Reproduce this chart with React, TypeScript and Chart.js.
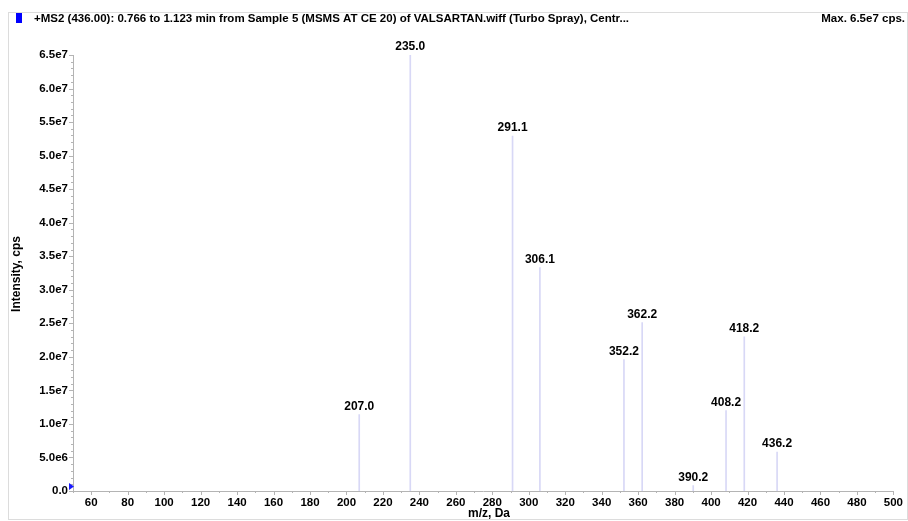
import React, { useEffect, useRef } from "react";
import { Chart, registerables } from "chart.js";

Chart.register(...registerables);

// Product-ion spectrum of valsartan precursor m/z 436
const peakMz = [207.0, 235.0, 291.1, 306.1, 352.2, 362.2, 390.2, 408.2, 418.2, 436.2];
const peakIntensity = [1.14e7, 6.5e7, 5.29e7, 3.33e7, 1.96e7, 2.51e7, 0.08e7, 1.2e7, 2.3e7, 0.58e7];

const xTickValues = [60, 80, 100, 120, 140, 160, 180, 200, 220, 240, 260, 280, 300, 320, 340, 360, 380, 400, 420, 440, 460, 480, 500];
const yTickValues = [0, 5e6, 1e7, 1.5e7, 2e7, 2.5e7, 3e7, 3.5e7, 4e7, 4.5e7, 5e7, 5.5e7, 6e7, 6.5e7];

const titleText = "+MS2 (436.00): 0.766 to 1.123 min from Sample 5 (MSMS AT CE 20) of VALSARTAN.wiff (Turbo Spray), Centr...";
const maxText = "Max. 6.5e7 cps.";
const xTitle = "m/z, Da";
const yTitle = "Intensity, cps";

const FONT = "'Liberation Sans', Arial, Helvetica, sans-serif";
const STICK = "#d8d8f6";
const AXIS = "#b4b4b4";

function fmtY(v: number): string {
  if (v === 0) return "0.0";
  return v.toExponential(1).replace("e+", "e");
}

const decorPlugin = {
  id: "spectrumDecor",
  afterDraw(chart: any) {
    const ctx = chart.ctx as CanvasRenderingContext2D;
    const xs = chart.scales.x;
    const ys = chart.scales.y;
    const area = chart.chartArea;
    ctx.save();

    // outer frame
    ctx.strokeStyle = "#dcdcdc";
    ctx.lineWidth = 1;
    ctx.strokeRect(8.5, 12.5, 899, 507);

    // header: marker square, title, max intensity
    ctx.fillStyle = "#0000ff";
    ctx.fillRect(16, 13, 6, 10);
    ctx.fillStyle = "#000";
    ctx.font = `bold 11.5px ${FONT}`;
    ctx.textBaseline = "middle";
    ctx.textAlign = "left";
    ctx.fillText(titleText, 34, 19);
    ctx.textAlign = "right";
    ctx.fillText(maxText, 905, 19);

    // minor / major tick marks
    ctx.strokeStyle = AXIS;
    ctx.beginPath();
    for (let v = 0; v <= 6.5e7 + 1; v += 1e6) {
      const y = Math.round(ys.getPixelForValue(v)) + 0.5;
      const len = v % 5e6 === 0 ? 4 : 2;
      ctx.moveTo(area.left - len, y);
      ctx.lineTo(area.left, y);
    }
    for (let v = 50; v <= 500; v += 10) {
      const x = Math.round(xs.getPixelForValue(v)) + 0.5;
      const len = v % 20 === 0 ? 4 : 2;
      ctx.moveTo(x, area.bottom);
      ctx.lineTo(x, area.bottom + len);
    }
    ctx.stroke();

    // axis titles
    ctx.fillStyle = "#000";
    ctx.font = `bold 12px ${FONT}`;
    ctx.textAlign = "center";
    ctx.textBaseline = "middle";
    ctx.fillText(xTitle, 489, 514);
    ctx.save();
    ctx.translate(17, 274);
    ctx.rotate(-Math.PI / 2);
    ctx.fillText(yTitle, 0, 0);
    ctx.restore();

    // origin marker
    ctx.fillStyle = "#1a1aff";
    ctx.beginPath();
    ctx.moveTo(area.left - 4, area.bottom - 8);
    ctx.lineTo(area.left - 4, area.bottom - 1);
    ctx.lineTo(area.left + 1, area.bottom - 4.5);
    ctx.closePath();
    ctx.fill();

    ctx.restore();
  },
  afterDatasetsDraw(chart: any) {
    const ctx = chart.ctx as CanvasRenderingContext2D;
    const meta = chart.getDatasetMeta(0);
    ctx.save();
    ctx.fillStyle = "#000";
    ctx.font = `bold 12px ${FONT}`;
    ctx.textAlign = "center";
    ctx.textBaseline = "middle";
    meta.data.forEach((el: any, i: number) => {
      ctx.fillText(peakMz[i].toFixed(1), el.x, el.y - 8);
    });
    ctx.restore();
  },
};

export default function App() {
  const canvasRef = useRef<HTMLCanvasElement | null>(null);

  useEffect(() => {
    if (!canvasRef.current) return;
    Chart.defaults.font.family = FONT;
    const chart = new Chart(canvasRef.current, {
      type: "bar",
      data: {
        datasets: [
          {
            data: peakMz.map((x, i) => ({ x, y: peakIntensity[i] })),
            backgroundColor: STICK,
            borderWidth: 0,
            barThickness: 1,
          },
        ],
      },
      options: {
        animation: false,
        responsive: true,
        maintainAspectRatio: false,
        layout: { padding: { top: 55, right: 12, left: 0, bottom: 0 } },
        plugins: {
          legend: { display: false },
          tooltip: { enabled: false },
          title: { display: false },
        },
        scales: {
          x: {
            type: "linear",
            min: 50,
            max: 500,
            offset: false,
            grid: { display: false, drawTicks: false },
            border: { display: true, color: AXIS, width: 1 },
            afterBuildTicks: (scale: any) => {
              scale.ticks = xTickValues.map((v) => ({ value: v }));
            },
            afterFit: (scale: any) => {
              scale.height = 30;
            },
            ticks: {
              autoSkip: false,
              maxRotation: 0,
              padding: 5,
              color: "#000",
              font: { size: 11.5, weight: "bold", family: FONT },
              callback: (v: any) => String(v),
            },
          },
          y: {
            min: 0,
            max: 6.5e7,
            grid: { display: false, drawTicks: false },
            border: { display: true, color: AXIS, width: 1 },
            afterBuildTicks: (scale: any) => {
              scale.ticks = yTickValues.map((v) => ({ value: v }));
            },
            afterFit: (scale: any) => {
              scale.width = 73;
            },
            ticks: {
              autoSkip: false,
              padding: 5,
              color: "#000",
              font: { size: 11.5, weight: "bold", family: FONT },
              callback: (v: any) => fmtY(Number(v)),
            },
          },
        },
      },
      plugins: [decorPlugin],
    } as any);
    return () => chart.destroy();
  }, []);

  return (
    <div style={{ position: "fixed", left: 0, top: 0, width: 908, height: 521, background: "#fff" }}>
      <canvas ref={canvasRef} />
    </div>
  );
}
